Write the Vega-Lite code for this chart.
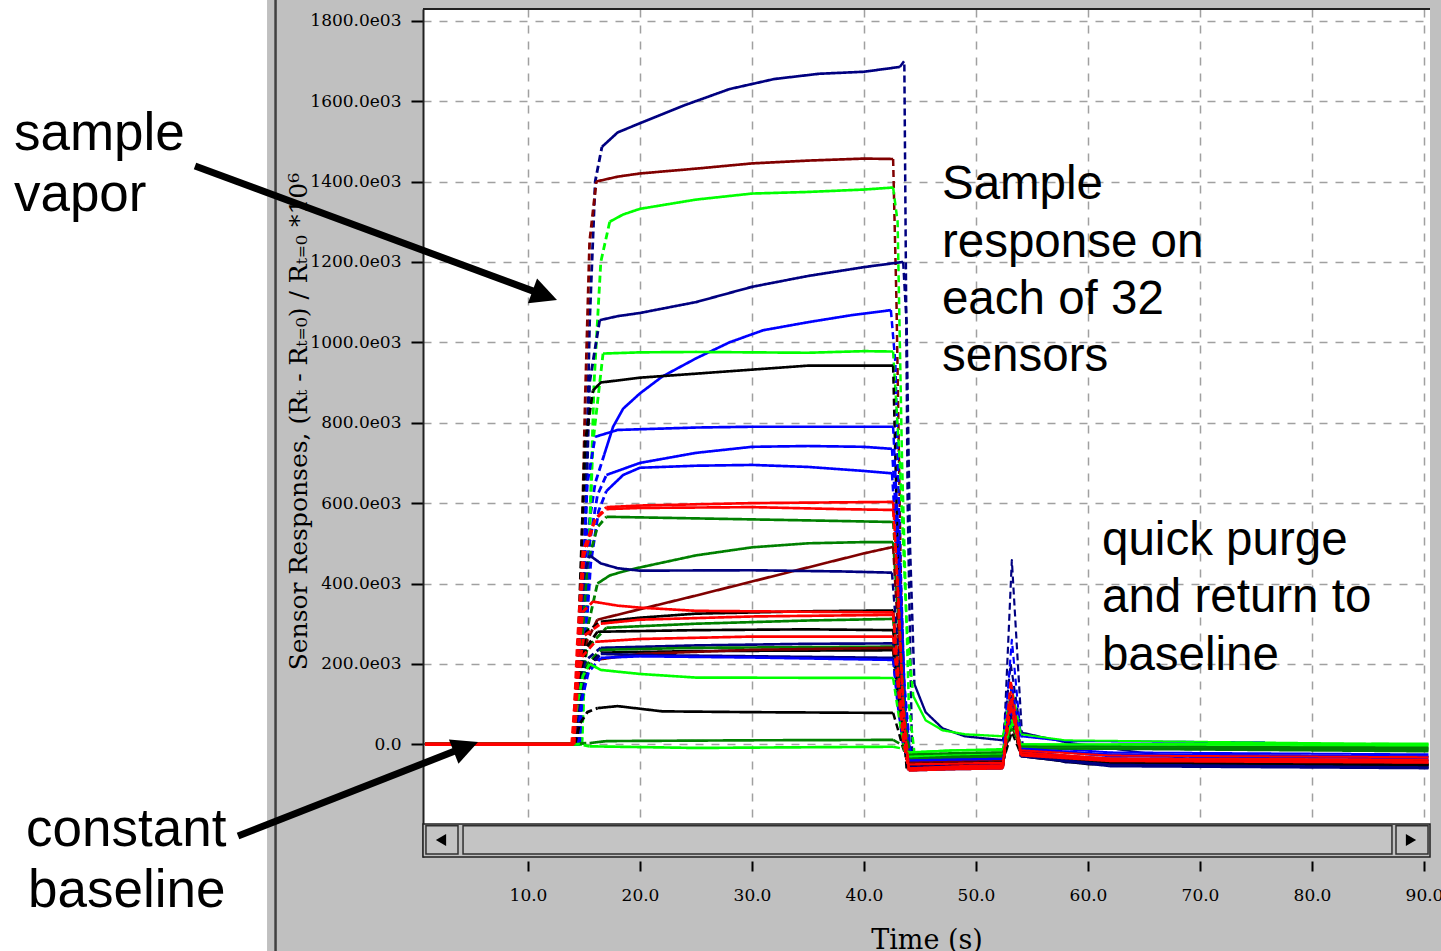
{
"$schema": "https://vega.github.io/schema/vega-lite/v6.json",
"width": 1007, "height": 848,
"autosize": {"type": "none"},
"padding": {"left": 423, "top": 9, "right": 11, "bottom": 94},
"background": "#c0c0c0",
"view": {"fill": "white", "stroke": null},
"encoding": {
 "x": {"field": "t", "type": "quantitative", "scale": {"domain": [0.625, 90.536], "nice": false, "zero": false},
  "axis": {"title": "Time (s)", "values": [10,20,30,40,50,60,70,80,90], "format": ".1f", "grid": true, "gridColor": "#a0a0a0", "gridDash": [8,8], "gridWidth": 1.5, "domain": false, "offset": 4, "tickSize": 10, "tickColor": "#000", "tickWidth": 2, "labelFont": "DejaVu Serif", "labelFontSize": 17, "labelColor": "#000", "labelPadding": 16, "labelFlush": false, "labelBound": false, "labelOverlap": false, "titleFont": "DejaVu Serif", "titleFontSize": 27, "titleFontWeight": "normal", "titleColor": "#000", "titlePadding": 24}},
 "y": {"field": "v", "type": "quantitative", "scale": {"domain": [-280.3, 1829.1], "nice": false, "zero": false},
  "axis": {"title": "Sensor Responses, (Rₜ - Rₜ₌₀) / Rₜ₌₀ *10⁶", "values": [0,200,400,600,800,1000,1200,1400,1600,1800], "labelExpr": "datum.value == 0 ? '0.0' : format(datum.value, '.1f') + 'e03'", "grid": true, "gridColor": "#a0a0a0", "gridDash": [8,8], "gridWidth": 1.5, "domain": true, "domainColor": "#202020", "domainWidth": 2, "tickSize": 12, "tickColor": "#000", "tickWidth": 2, "labelFont": "DejaVu Serif", "labelFontSize": 17, "labelColor": "#000", "labelPadding": 10, "labelOverlap": false, "titleFont": "DejaVu Serif", "titleFontSize": 25, "titleFontWeight": "normal", "titleColor": "#000", "titleX": -125, "titleY": 412, "titleAngle": 270, "titleBaseline": "middle", "titleAlign": "center"}}
},
"layer": [
 {"data": {"values": [{"t": -40, "t2": -13.3, "v": 1900, "v2": -600}]}, "mark": {"type": "rect", "fill": "white"}, "encoding": {"x2": {"field": "t2"}, "y2": {"field": "v2"}}},
 {"data": {"values": [{"t": -12.54, "v": 1900, "v2": -600}]}, "mark": {"type": "rule", "color": "#404040", "strokeWidth": 2.5}, "encoding": {"y2": {"field": "v2"}}},
 {"data": {"values": [{"t": 0.625, "t2": 90.536, "v": 1829.1}]}, "mark": {"type": "rule", "color": "#202020", "strokeWidth": 2}, "encoding": {"x2": {"field": "t2"}}},
 {"data": {"values": [
{"s":1,"k":"b","t":0.8,"v":0},{"s":1,"k":"b","t":14.6,"v":0},
{"s":1,"k":"r","t":14.6,"v":0},{"s":1,"k":"r","t":15.0,"v":400},{"s":1,"k":"r","t":15.5,"v":1050},{"s":1,"k":"r","t":16.0,"v":1400},{"s":1,"k":"r","t":16.6,"v":1486},
{"s":1,"k":"p","t":16.6,"v":1486},{"s":1,"k":"p","t":18,"v":1522},{"s":1,"k":"p","t":20,"v":1545},{"s":1,"k":"p","t":24,"v":1590},{"s":1,"k":"p","t":28,"v":1630},{"s":1,"k":"p","t":32,"v":1655},{"s":1,"k":"p","t":36,"v":1668},{"s":1,"k":"p","t":40,"v":1673},{"s":1,"k":"p","t":43.2,"v":1685},
{"s":1,"k":"f","t":43.2,"v":1685},{"s":1,"k":"f","t":43.6,"v":1700},{"s":1,"k":"f","t":43.9,"v":600},{"s":1,"k":"f","t":44.3,"v":-40},
{"s":1,"k":"d","t":44.3,"v":-40},{"s":1,"k":"d","t":47,"v":-45},{"s":1,"k":"d","t":52.4,"v":-48},
{"s":1,"k":"k","t":52.4,"v":-48},{"s":1,"k":"k","t":53.2,"v":458},{"s":1,"k":"k","t":54.2,"v":-20},
{"s":1,"k":"t","t":54.2,"v":-20},{"s":1,"k":"t","t":58,"v":-45},{"s":1,"k":"t","t":90.4,"v":-55},

{"s":2,"k":"b","t":0.8,"v":0},{"s":2,"k":"b","t":14.3,"v":0},
{"s":2,"k":"r","t":14.3,"v":0},{"s":2,"k":"r","t":14.6,"v":250},{"s":2,"k":"r","t":15.1,"v":850},{"s":2,"k":"r","t":15.5,"v":1250},{"s":2,"k":"r","t":16.1,"v":1400},
{"s":2,"k":"p","t":16.1,"v":1400},{"s":2,"k":"p","t":18,"v":1412},{"s":2,"k":"p","t":20,"v":1420},{"s":2,"k":"p","t":25,"v":1432},{"s":2,"k":"p","t":30,"v":1445},{"s":2,"k":"p","t":35,"v":1452},{"s":2,"k":"p","t":40,"v":1457},{"s":2,"k":"p","t":42.6,"v":1456},
{"s":2,"k":"f","t":42.6,"v":1456},{"s":2,"k":"f","t":42.9,"v":1100},{"s":2,"k":"f","t":43.3,"v":400},{"s":2,"k":"f","t":43.8,"v":-50},
{"s":2,"k":"d","t":43.8,"v":-50},{"s":2,"k":"d","t":47,"v":-35},{"s":2,"k":"d","t":52.4,"v":-30},
{"s":2,"k":"k","t":52.4,"v":-30},{"s":2,"k":"k","t":53.1,"v":120},{"s":2,"k":"k","t":54,"v":-10},
{"s":2,"k":"t","t":54,"v":-10},{"s":2,"k":"t","t":60,"v":-25},{"s":2,"k":"t","t":90.4,"v":-30},

{"s":3,"k":"b","t":0.8,"v":0},{"s":3,"k":"b","t":14.8,"v":0},
{"s":3,"k":"r","t":14.8,"v":0},{"s":3,"k":"r","t":15.3,"v":350},{"s":3,"k":"r","t":15.9,"v":900},{"s":3,"k":"r","t":16.5,"v":1200},{"s":3,"k":"r","t":17.3,"v":1300},
{"s":3,"k":"p","t":17.3,"v":1300},{"s":3,"k":"p","t":18.5,"v":1318},{"s":3,"k":"p","t":20,"v":1332},{"s":3,"k":"p","t":25,"v":1355},{"s":3,"k":"p","t":30,"v":1370},{"s":3,"k":"p","t":35,"v":1374},{"s":3,"k":"p","t":40,"v":1380},{"s":3,"k":"p","t":42.6,"v":1385},
{"s":3,"k":"f","t":42.6,"v":1385},{"s":3,"k":"f","t":43.0,"v":1300},{"s":3,"k":"f","t":43.4,"v":700},{"s":3,"k":"f","t":44.0,"v":100},{"s":3,"k":"f","t":44.5,"v":-20},
{"s":3,"k":"d","t":44.5,"v":-20},{"s":3,"k":"d","t":48,"v":-15},{"s":3,"k":"d","t":52.4,"v":-15},
{"s":3,"k":"k","t":52.4,"v":-15},{"s":3,"k":"k","t":53.1,"v":90},{"s":3,"k":"k","t":54,"v":0},
{"s":3,"k":"t","t":54,"v":0},{"s":3,"k":"t","t":90.4,"v":-2},

{"s":4,"k":"b","t":0.8,"v":0},{"s":4,"k":"b","t":14.6,"v":0},
{"s":4,"k":"r","t":14.6,"v":0},{"s":4,"k":"r","t":15.0,"v":400},{"s":4,"k":"r","t":15.5,"v":900},{"s":4,"k":"r","t":16.4,"v":1055},
{"s":4,"k":"p","t":16.4,"v":1055},{"s":4,"k":"p","t":18,"v":1065},{"s":4,"k":"p","t":20,"v":1073},{"s":4,"k":"p","t":25,"v":1100},{"s":4,"k":"p","t":30,"v":1138},{"s":4,"k":"p","t":35,"v":1165},{"s":4,"k":"p","t":40,"v":1187},{"s":4,"k":"p","t":43.5,"v":1200},
{"s":4,"k":"f","t":43.5,"v":1200},{"s":4,"k":"f","t":43.8,"v":1050},{"s":4,"k":"f","t":44.1,"v":500},{"s":4,"k":"f","t":44.5,"v":150},
{"s":4,"k":"d","t":44.5,"v":150},{"s":4,"k":"d","t":45.5,"v":80},{"s":4,"k":"d","t":47,"v":40},{"s":4,"k":"d","t":49,"v":20},{"s":4,"k":"d","t":52.4,"v":10},
{"s":4,"k":"k","t":52.4,"v":10},{"s":4,"k":"k","t":53.1,"v":200},{"s":4,"k":"k","t":54,"v":30},
{"s":4,"k":"t","t":54,"v":30},{"s":4,"k":"t","t":58,"v":5},{"s":4,"k":"t","t":70,"v":-40},{"s":4,"k":"t","t":90.4,"v":-50},

{"s":5,"k":"b","t":0.8,"v":0},{"s":5,"k":"b","t":14.4,"v":0},
{"s":5,"k":"r","t":14.4,"v":0},{"s":5,"k":"r","t":14.8,"v":250},{"s":5,"k":"r","t":15.3,"v":520},{"s":5,"k":"r","t":16.0,"v":650},{"s":5,"k":"r","t":16.8,"v":720},
{"s":5,"k":"p","t":16.8,"v":720},{"s":5,"k":"p","t":17.6,"v":790},{"s":5,"k":"p","t":18.5,"v":835},{"s":5,"k":"p","t":20,"v":873},{"s":5,"k":"p","t":22,"v":915},{"s":5,"k":"p","t":25,"v":960},{"s":5,"k":"p","t":28,"v":1000},{"s":5,"k":"p","t":31,"v":1030},{"s":5,"k":"p","t":35,"v":1050},{"s":5,"k":"p","t":39,"v":1068},{"s":5,"k":"p","t":42.4,"v":1080},
{"s":5,"k":"f","t":42.4,"v":1080},{"s":5,"k":"f","t":42.8,"v":950},{"s":5,"k":"f","t":43.2,"v":500},{"s":5,"k":"f","t":43.7,"v":50},{"s":5,"k":"f","t":44.2,"v":-40},
{"s":5,"k":"d","t":44.2,"v":-40},{"s":5,"k":"d","t":48,"v":-30},{"s":5,"k":"d","t":52.4,"v":-25},
{"s":5,"k":"k","t":52.4,"v":-25},{"s":5,"k":"k","t":53.2,"v":260},{"s":5,"k":"k","t":54,"v":20},
{"s":5,"k":"t","t":54,"v":20},{"s":5,"k":"t","t":58,"v":8},{"s":5,"k":"t","t":75.8,"v":5},

{"s":6,"k":"b","t":0.8,"v":0},{"s":6,"k":"b","t":14.8,"v":0},
{"s":6,"k":"r","t":14.8,"v":0},{"s":6,"k":"r","t":15.2,"v":300},{"s":6,"k":"r","t":15.8,"v":750},{"s":6,"k":"r","t":16.7,"v":972},
{"s":6,"k":"p","t":16.7,"v":972},{"s":6,"k":"p","t":20,"v":975},{"s":6,"k":"p","t":25,"v":976},{"s":6,"k":"p","t":30,"v":975},{"s":6,"k":"p","t":35,"v":974},{"s":6,"k":"p","t":40,"v":978},{"s":6,"k":"p","t":42.6,"v":977},
{"s":6,"k":"f","t":42.6,"v":977},{"s":6,"k":"f","t":43.2,"v":700},{"s":6,"k":"f","t":43.8,"v":300},{"s":6,"k":"f","t":44.4,"v":120},
{"s":6,"k":"d","t":44.4,"v":120},{"s":6,"k":"d","t":45.5,"v":60},{"s":6,"k":"d","t":47,"v":35},{"s":6,"k":"d","t":49,"v":25},{"s":6,"k":"d","t":52.4,"v":20},
{"s":6,"k":"k","t":52.4,"v":20},{"s":6,"k":"k","t":53.2,"v":140},{"s":6,"k":"k","t":54,"v":25},
{"s":6,"k":"t","t":54,"v":25},{"s":6,"k":"t","t":58,"v":10},{"s":6,"k":"t","t":90.4,"v":0},

{"s":7,"k":"b","t":0.8,"v":0},{"s":7,"k":"b","t":14.2,"v":0},
{"s":7,"k":"r","t":14.2,"v":0},{"s":7,"k":"r","t":14.6,"v":350},{"s":7,"k":"r","t":15.1,"v":750},{"s":7,"k":"r","t":15.8,"v":880},
{"s":7,"k":"p","t":15.8,"v":880},{"s":7,"k":"p","t":16.5,"v":900},{"s":7,"k":"p","t":20,"v":912},{"s":7,"k":"p","t":25,"v":922},{"s":7,"k":"p","t":30,"v":932},{"s":7,"k":"p","t":35,"v":942},{"s":7,"k":"p","t":42.6,"v":942},
{"s":7,"k":"f","t":42.6,"v":942},{"s":7,"k":"f","t":42.9,"v":600},{"s":7,"k":"f","t":43.3,"v":150},{"s":7,"k":"f","t":43.8,"v":-60},
{"s":7,"k":"d","t":43.8,"v":-60},{"s":7,"k":"d","t":47,"v":-55},{"s":7,"k":"d","t":52.4,"v":-55},
{"s":7,"k":"k","t":52.4,"v":-55},{"s":7,"k":"k","t":53.2,"v":80},{"s":7,"k":"k","t":54,"v":-30},
{"s":7,"k":"t","t":54,"v":-30},{"s":7,"k":"t","t":60,"v":-50},{"s":7,"k":"t","t":90.4,"v":-58},

{"s":8,"k":"b","t":0.8,"v":0},{"s":8,"k":"b","t":14.3,"v":0},
{"s":8,"k":"r","t":14.3,"v":0},{"s":8,"k":"r","t":14.7,"v":300},{"s":8,"k":"r","t":15.3,"v":650},{"s":8,"k":"r","t":16.0,"v":765},
{"s":8,"k":"p","t":16.0,"v":765},{"s":8,"k":"p","t":18,"v":782},{"s":8,"k":"p","t":25,"v":788},{"s":8,"k":"p","t":30,"v":790},{"s":8,"k":"p","t":42.6,"v":790},
{"s":8,"k":"f","t":42.6,"v":790},{"s":8,"k":"f","t":43.1,"v":500},{"s":8,"k":"f","t":43.6,"v":150},{"s":8,"k":"f","t":44.1,"v":-50},
{"s":8,"k":"d","t":44.1,"v":-50},{"s":8,"k":"d","t":48,"v":-48},{"s":8,"k":"d","t":52.4,"v":-45},
{"s":8,"k":"k","t":52.4,"v":-45},{"s":8,"k":"k","t":53.2,"v":100},{"s":8,"k":"k","t":54,"v":-15},
{"s":8,"k":"t","t":54,"v":-15},{"s":8,"k":"t","t":60,"v":-35},{"s":8,"k":"t","t":90.4,"v":-40},

{"s":9,"k":"b","t":0.8,"v":0},{"s":9,"k":"b","t":14.5,"v":0},
{"s":9,"k":"r","t":14.5,"v":0},{"s":9,"k":"r","t":14.9,"v":250},{"s":9,"k":"r","t":15.5,"v":500},{"s":9,"k":"r","t":16.2,"v":620},{"s":9,"k":"r","t":17,"v":670},
{"s":9,"k":"p","t":17,"v":670},{"s":9,"k":"p","t":20,"v":700},{"s":9,"k":"p","t":25,"v":725},{"s":9,"k":"p","t":30,"v":740},{"s":9,"k":"p","t":35,"v":742},{"s":9,"k":"p","t":40,"v":740},{"s":9,"k":"p","t":42.5,"v":735},
{"s":9,"k":"f","t":42.5,"v":735},{"s":9,"k":"f","t":43.0,"v":500},{"s":9,"k":"f","t":43.6,"v":150},{"s":9,"k":"f","t":44.2,"v":-40},
{"s":9,"k":"d","t":44.2,"v":-40},{"s":9,"k":"d","t":48,"v":-35},{"s":9,"k":"d","t":52.4,"v":-32},
{"s":9,"k":"k","t":52.4,"v":-32},{"s":9,"k":"k","t":53.2,"v":150},{"s":9,"k":"k","t":54,"v":-5},
{"s":9,"k":"t","t":54,"v":-5},{"s":9,"k":"t","t":62,"v":-20},{"s":9,"k":"t","t":90.4,"v":-25},

{"s":10,"k":"b","t":0.8,"v":0},{"s":10,"k":"b","t":14.6,"v":0},
{"s":10,"k":"r","t":14.6,"v":0},{"s":10,"k":"r","t":15.0,"v":200},{"s":10,"k":"r","t":15.6,"v":450},{"s":10,"k":"r","t":16.3,"v":580},{"s":10,"k":"r","t":17,"v":630},
{"s":10,"k":"p","t":17,"v":630},{"s":10,"k":"p","t":18.5,"v":670},{"s":10,"k":"p","t":20,"v":688},{"s":10,"k":"p","t":25,"v":693},{"s":10,"k":"p","t":30,"v":695},{"s":10,"k":"p","t":35,"v":690},{"s":10,"k":"p","t":40,"v":680},{"s":10,"k":"p","t":42.5,"v":674},
{"s":10,"k":"f","t":42.5,"v":674},{"s":10,"k":"f","t":43.0,"v":450},{"s":10,"k":"f","t":43.6,"v":120},{"s":10,"k":"f","t":44.2,"v":-45},
{"s":10,"k":"d","t":44.2,"v":-45},{"s":10,"k":"d","t":48,"v":-40},{"s":10,"k":"d","t":52.4,"v":-38},
{"s":10,"k":"k","t":52.4,"v":-38},{"s":10,"k":"k","t":53.2,"v":110},{"s":10,"k":"k","t":54,"v":-10},
{"s":10,"k":"t","t":54,"v":-10},{"s":10,"k":"t","t":62,"v":-30},{"s":10,"k":"t","t":90.4,"v":-35},

{"s":13,"k":"b","t":0.8,"v":0},{"s":13,"k":"b","t":14.3,"v":0},
{"s":13,"k":"r","t":14.3,"v":0},{"s":13,"k":"r","t":14.7,"v":200},{"s":13,"k":"r","t":15.3,"v":450},{"s":13,"k":"r","t":16.2,"v":540},{"s":13,"k":"r","t":17,"v":566},
{"s":13,"k":"p","t":17,"v":566},{"s":13,"k":"p","t":25,"v":562},{"s":13,"k":"p","t":35,"v":557},{"s":13,"k":"p","t":42.6,"v":553},
{"s":13,"k":"f","t":42.6,"v":553},{"s":13,"k":"f","t":43.1,"v":350},{"s":13,"k":"f","t":43.6,"v":80},{"s":13,"k":"f","t":44.1,"v":-30},
{"s":13,"k":"d","t":44.1,"v":-30},{"s":13,"k":"d","t":48,"v":-28},{"s":13,"k":"d","t":52.4,"v":-25},
{"s":13,"k":"k","t":52.4,"v":-25},{"s":13,"k":"k","t":53.2,"v":90},{"s":13,"k":"k","t":54,"v":-5},
{"s":13,"k":"t","t":54,"v":-5},{"s":13,"k":"t","t":90.4,"v":-10},

{"s":14,"k":"b","t":0.8,"v":0},{"s":14,"k":"b","t":14.4,"v":0},
{"s":14,"k":"r","t":14.4,"v":0},{"s":14,"k":"r","t":14.8,"v":150},{"s":14,"k":"r","t":15.4,"v":300},{"s":14,"k":"r","t":16.2,"v":400},
{"s":14,"k":"p","t":16.2,"v":400},{"s":14,"k":"p","t":17.3,"v":420},{"s":14,"k":"p","t":18.5,"v":430},{"s":14,"k":"p","t":20,"v":440},{"s":14,"k":"p","t":25,"v":470},{"s":14,"k":"p","t":30,"v":490},{"s":14,"k":"p","t":35,"v":500},{"s":14,"k":"p","t":40,"v":503},{"s":14,"k":"p","t":42.6,"v":503},
{"s":14,"k":"f","t":42.6,"v":503},{"s":14,"k":"f","t":43.1,"v":300},{"s":14,"k":"f","t":43.6,"v":60},{"s":14,"k":"f","t":44.1,"v":-35},
{"s":14,"k":"d","t":44.1,"v":-35},{"s":14,"k":"d","t":48,"v":-30},{"s":14,"k":"d","t":52.4,"v":-30},
{"s":14,"k":"k","t":52.4,"v":-30},{"s":14,"k":"k","t":53.2,"v":70},{"s":14,"k":"k","t":54,"v":-10},
{"s":14,"k":"t","t":54,"v":-10},{"s":14,"k":"t","t":90.4,"v":-15},

{"s":15,"k":"b","t":0.8,"v":0},{"s":15,"k":"b","t":14.2,"v":0},
{"s":15,"k":"r","t":14.2,"v":0},{"s":15,"k":"r","t":14.6,"v":150},{"s":15,"k":"r","t":15.3,"v":260},{"s":15,"k":"r","t":16.2,"v":310},
{"s":15,"k":"p","t":16.2,"v":310},{"s":15,"k":"p","t":20,"v":336},{"s":15,"k":"p","t":25,"v":370},{"s":15,"k":"p","t":30,"v":405},{"s":15,"k":"p","t":35,"v":440},{"s":15,"k":"p","t":40,"v":475},{"s":15,"k":"p","t":42.6,"v":491},
{"s":15,"k":"f","t":42.6,"v":491},{"s":15,"k":"f","t":43.0,"v":300},{"s":15,"k":"f","t":43.5,"v":60},{"s":15,"k":"f","t":44.0,"v":-55},
{"s":15,"k":"d","t":44.0,"v":-55},{"s":15,"k":"d","t":48,"v":-50},{"s":15,"k":"d","t":52.4,"v":-50},
{"s":15,"k":"k","t":52.4,"v":-50},{"s":15,"k":"k","t":53.2,"v":60},{"s":15,"k":"k","t":54,"v":-25},
{"s":15,"k":"t","t":54,"v":-25},{"s":15,"k":"t","t":62,"v":-45},{"s":15,"k":"t","t":90.4,"v":-50},

{"s":16,"k":"b","t":0.8,"v":0},{"s":16,"k":"b","t":14.1,"v":0},
{"s":16,"k":"r","t":14.1,"v":0},{"s":16,"k":"r","t":14.5,"v":250},{"s":16,"k":"r","t":15.0,"v":420},{"s":16,"k":"r","t":15.5,"v":470},
{"s":16,"k":"p","t":15.5,"v":470},{"s":16,"k":"p","t":16.5,"v":450},{"s":16,"k":"p","t":18,"v":438},{"s":16,"k":"p","t":20,"v":432},{"s":16,"k":"p","t":30,"v":433},{"s":16,"k":"p","t":38,"v":430},{"s":16,"k":"p","t":42.5,"v":427},
{"s":16,"k":"f","t":42.5,"v":427},{"s":16,"k":"f","t":43.0,"v":250},{"s":16,"k":"f","t":43.5,"v":40},{"s":16,"k":"f","t":44.0,"v":-65},
{"s":16,"k":"d","t":44.0,"v":-65},{"s":16,"k":"d","t":48,"v":-62},{"s":16,"k":"d","t":52.4,"v":-60},
{"s":16,"k":"k","t":52.4,"v":-60},{"s":16,"k":"k","t":53.2,"v":120},{"s":16,"k":"k","t":54,"v":-30},
{"s":16,"k":"t","t":54,"v":-30},{"s":16,"k":"t","t":62,"v":-55},{"s":16,"k":"t","t":90.4,"v":-60},

{"s":18,"k":"b","t":0.8,"v":0},{"s":18,"k":"b","t":14.2,"v":0},
{"s":18,"k":"r","t":14.2,"v":0},{"s":18,"k":"r","t":14.6,"v":180},{"s":18,"k":"r","t":15.2,"v":280},{"s":18,"k":"r","t":16.5,"v":305},
{"s":18,"k":"p","t":16.5,"v":305},{"s":18,"k":"p","t":20,"v":315},{"s":18,"k":"p","t":25,"v":325},{"s":18,"k":"p","t":35,"v":331},{"s":18,"k":"p","t":42.6,"v":333},
{"s":18,"k":"f","t":42.6,"v":333},{"s":18,"k":"f","t":43.0,"v":200},{"s":18,"k":"f","t":43.5,"v":20},{"s":18,"k":"f","t":44.0,"v":-45},
{"s":18,"k":"d","t":44.0,"v":-45},{"s":18,"k":"d","t":48,"v":-42},{"s":18,"k":"d","t":52.4,"v":-40},
{"s":18,"k":"k","t":52.4,"v":-40},{"s":18,"k":"k","t":53.2,"v":90},{"s":18,"k":"k","t":54,"v":-20},
{"s":18,"k":"t","t":54,"v":-20},{"s":18,"k":"t","t":62,"v":-40},{"s":18,"k":"t","t":90.4,"v":-48},

{"s":20,"k":"b","t":0.8,"v":0},{"s":20,"k":"b","t":14.3,"v":0},
{"s":20,"k":"r","t":14.3,"v":0},{"s":20,"k":"r","t":14.7,"v":150},{"s":20,"k":"r","t":15.3,"v":240},{"s":20,"k":"r","t":17,"v":290},
{"s":20,"k":"p","t":17,"v":290},{"s":20,"k":"p","t":25,"v":300},{"s":20,"k":"p","t":35,"v":308},{"s":20,"k":"p","t":42.6,"v":312},
{"s":20,"k":"f","t":42.6,"v":312},{"s":20,"k":"f","t":43.0,"v":180},{"s":20,"k":"f","t":43.5,"v":20},{"s":20,"k":"f","t":44.0,"v":-40},
{"s":20,"k":"d","t":44.0,"v":-40},{"s":20,"k":"d","t":48,"v":-38},{"s":20,"k":"d","t":52.4,"v":-36},
{"s":20,"k":"k","t":52.4,"v":-36},{"s":20,"k":"k","t":53.2,"v":70},{"s":20,"k":"k","t":54,"v":-10},
{"s":20,"k":"t","t":54,"v":-10},{"s":20,"k":"t","t":90.4,"v":-18},

{"s":21,"k":"b","t":0.8,"v":0},{"s":21,"k":"b","t":14.2,"v":0},
{"s":21,"k":"r","t":14.2,"v":0},{"s":21,"k":"r","t":14.6,"v":150},{"s":21,"k":"r","t":15.2,"v":240},{"s":21,"k":"r","t":16.2,"v":280},
{"s":21,"k":"p","t":16.2,"v":280},{"s":21,"k":"p","t":25,"v":284},{"s":21,"k":"p","t":35,"v":286},{"s":21,"k":"p","t":42.6,"v":284},
{"s":21,"k":"f","t":42.6,"v":284},{"s":21,"k":"f","t":43.0,"v":160},{"s":21,"k":"f","t":43.5,"v":10},{"s":21,"k":"f","t":44.0,"v":-55},
{"s":21,"k":"d","t":44.0,"v":-55},{"s":21,"k":"d","t":48,"v":-52},{"s":21,"k":"d","t":52.4,"v":-50},
{"s":21,"k":"k","t":52.4,"v":-50},{"s":21,"k":"k","t":53.2,"v":60},{"s":21,"k":"k","t":54,"v":-25},
{"s":21,"k":"t","t":54,"v":-25},{"s":21,"k":"t","t":62,"v":-48},{"s":21,"k":"t","t":90.4,"v":-52},

{"s":23,"k":"b","t":0.8,"v":0},{"s":23,"k":"b","t":14.2,"v":0},
{"s":23,"k":"r","t":14.2,"v":0},{"s":23,"k":"r","t":14.6,"v":140},{"s":23,"k":"r","t":15.2,"v":210},{"s":23,"k":"r","t":16.5,"v":240},
{"s":23,"k":"p","t":16.5,"v":240},{"s":23,"k":"p","t":25,"v":246},{"s":23,"k":"p","t":35,"v":250},{"s":23,"k":"p","t":42.6,"v":251},
{"s":23,"k":"f","t":42.6,"v":251},{"s":23,"k":"f","t":43.0,"v":140},{"s":23,"k":"f","t":43.5,"v":10},{"s":23,"k":"f","t":44.0,"v":-60},
{"s":23,"k":"d","t":44.0,"v":-60},{"s":23,"k":"d","t":48,"v":-58},{"s":23,"k":"d","t":52.4,"v":-56},
{"s":23,"k":"k","t":52.4,"v":-56},{"s":23,"k":"k","t":53.2,"v":80},{"s":23,"k":"k","t":54,"v":-30},
{"s":23,"k":"t","t":54,"v":-30},{"s":23,"k":"t","t":62,"v":-50},{"s":23,"k":"t","t":90.4,"v":-56},

{"s":24,"k":"b","t":0.8,"v":0},{"s":24,"k":"b","t":14.3,"v":0},
{"s":24,"k":"r","t":14.3,"v":0},{"s":24,"k":"r","t":14.7,"v":130},{"s":24,"k":"r","t":15.3,"v":200},{"s":24,"k":"r","t":16.5,"v":235},
{"s":24,"k":"p","t":16.5,"v":235},{"s":24,"k":"p","t":25,"v":240},{"s":24,"k":"p","t":42.6,"v":243},
{"s":24,"k":"f","t":42.6,"v":243},{"s":24,"k":"f","t":43.0,"v":130},{"s":24,"k":"f","t":43.5,"v":10},{"s":24,"k":"f","t":44.0,"v":-35},
{"s":24,"k":"d","t":44.0,"v":-35},{"s":24,"k":"d","t":48,"v":-33},{"s":24,"k":"d","t":52.4,"v":-30},
{"s":24,"k":"k","t":52.4,"v":-30},{"s":24,"k":"k","t":53.2,"v":60},{"s":24,"k":"k","t":54,"v":-8},
{"s":24,"k":"t","t":54,"v":-8},{"s":24,"k":"t","t":90.4,"v":-12},

{"s":25,"k":"b","t":0.8,"v":0},{"s":25,"k":"b","t":14.2,"v":0},
{"s":25,"k":"r","t":14.2,"v":0},{"s":25,"k":"r","t":14.6,"v":130},{"s":25,"k":"r","t":15.2,"v":190},{"s":25,"k":"r","t":16.5,"v":228},
{"s":25,"k":"p","t":16.5,"v":228},{"s":25,"k":"p","t":25,"v":232},{"s":25,"k":"p","t":42.6,"v":234},
{"s":25,"k":"f","t":42.6,"v":234},{"s":25,"k":"f","t":43.0,"v":120},{"s":25,"k":"f","t":43.5,"v":0},{"s":25,"k":"f","t":44.0,"v":-50},
{"s":25,"k":"d","t":44.0,"v":-50},{"s":25,"k":"d","t":48,"v":-48},{"s":25,"k":"d","t":52.4,"v":-46},
{"s":25,"k":"k","t":52.4,"v":-46},{"s":25,"k":"k","t":53.2,"v":50},{"s":25,"k":"k","t":54,"v":-20},
{"s":25,"k":"t","t":54,"v":-20},{"s":25,"k":"t","t":62,"v":-44},{"s":25,"k":"t","t":90.4,"v":-50},

{"s":26,"k":"b","t":0.8,"v":0},{"s":26,"k":"b","t":14.2,"v":0},
{"s":26,"k":"r","t":14.2,"v":0},{"s":26,"k":"r","t":14.6,"v":120},{"s":26,"k":"r","t":15.2,"v":180},{"s":26,"k":"r","t":16,"v":210},
{"s":26,"k":"p","t":16,"v":210},{"s":26,"k":"p","t":20,"v":225},{"s":26,"k":"p","t":30,"v":235},{"s":26,"k":"p","t":42.6,"v":240},
{"s":26,"k":"f","t":42.6,"v":240},{"s":26,"k":"f","t":43.0,"v":130},{"s":26,"k":"f","t":43.5,"v":10},{"s":26,"k":"f","t":44.0,"v":-45},
{"s":26,"k":"d","t":44.0,"v":-45},{"s":26,"k":"d","t":48,"v":-42},{"s":26,"k":"d","t":52.4,"v":-40},
{"s":26,"k":"k","t":52.4,"v":-40},{"s":26,"k":"k","t":53.2,"v":50},{"s":26,"k":"k","t":54,"v":-20},
{"s":26,"k":"t","t":54,"v":-20},{"s":26,"k":"t","t":62,"v":-36},{"s":26,"k":"t","t":90.4,"v":-40},

{"s":27,"k":"b","t":0.8,"v":0},{"s":27,"k":"b","t":14.3,"v":0},
{"s":27,"k":"r","t":14.3,"v":0},{"s":27,"k":"r","t":14.7,"v":120},{"s":27,"k":"r","t":15.3,"v":190},{"s":27,"k":"r","t":16.5,"v":225},
{"s":27,"k":"p","t":16.5,"v":225},{"s":27,"k":"p","t":20,"v":222},{"s":27,"k":"p","t":30,"v":219},{"s":27,"k":"p","t":42.6,"v":215},
{"s":27,"k":"f","t":42.6,"v":215},{"s":27,"k":"f","t":43.0,"v":110},{"s":27,"k":"f","t":43.5,"v":0},{"s":27,"k":"f","t":44.0,"v":-55},
{"s":27,"k":"d","t":44.0,"v":-55},{"s":27,"k":"d","t":48,"v":-53},{"s":27,"k":"d","t":52.4,"v":-50},
{"s":27,"k":"k","t":52.4,"v":-50},{"s":27,"k":"k","t":53.2,"v":70},{"s":27,"k":"k","t":54,"v":-28},
{"s":27,"k":"t","t":54,"v":-28},{"s":27,"k":"t","t":62,"v":-50},{"s":27,"k":"t","t":90.4,"v":-58},

{"s":28,"k":"b","t":0.8,"v":0},{"s":28,"k":"b","t":14.4,"v":0},
{"s":28,"k":"r","t":14.4,"v":0},{"s":28,"k":"r","t":14.8,"v":110},{"s":28,"k":"r","t":15.4,"v":180},{"s":28,"k":"r","t":16.5,"v":215},
{"s":28,"k":"p","t":16.5,"v":215},{"s":28,"k":"p","t":20,"v":219},{"s":28,"k":"p","t":30,"v":216},{"s":28,"k":"p","t":42.6,"v":210},
{"s":28,"k":"f","t":42.6,"v":210},{"s":28,"k":"f","t":43.0,"v":100},{"s":28,"k":"f","t":43.5,"v":0},{"s":28,"k":"f","t":44.0,"v":-40},
{"s":28,"k":"d","t":44.0,"v":-40},{"s":28,"k":"d","t":48,"v":-38},{"s":28,"k":"d","t":52.4,"v":-36},
{"s":28,"k":"k","t":52.4,"v":-36},{"s":28,"k":"k","t":53.2,"v":90},{"s":28,"k":"k","t":54,"v":-10},
{"s":28,"k":"t","t":54,"v":-10},{"s":28,"k":"t","t":62,"v":-25},{"s":28,"k":"t","t":90.4,"v":-30},

{"s":29,"k":"b","t":0.8,"v":0},{"s":29,"k":"b","t":14.0,"v":0},
{"s":29,"k":"r","t":14.0,"v":0},{"s":29,"k":"r","t":14.4,"v":100},{"s":29,"k":"r","t":14.9,"v":170},{"s":29,"k":"r","t":15.5,"v":200},
{"s":29,"k":"p","t":15.5,"v":200},{"s":29,"k":"p","t":16.5,"v":185},{"s":29,"k":"p","t":20,"v":175},{"s":29,"k":"p","t":25,"v":166},{"s":29,"k":"p","t":42.6,"v":165},
{"s":29,"k":"f","t":42.6,"v":165},{"s":29,"k":"f","t":43.0,"v":90},{"s":29,"k":"f","t":43.5,"v":0},{"s":29,"k":"f","t":44.0,"v":-30},
{"s":29,"k":"d","t":44.0,"v":-30},{"s":29,"k":"d","t":48,"v":-25},{"s":29,"k":"d","t":52.4,"v":-22},
{"s":29,"k":"k","t":52.4,"v":-22},{"s":29,"k":"k","t":53.2,"v":60},{"s":29,"k":"k","t":54,"v":-5},
{"s":29,"k":"t","t":54,"v":-5},{"s":29,"k":"t","t":90.4,"v":-5},

{"s":30,"k":"b","t":0.8,"v":0},{"s":30,"k":"b","t":14.2,"v":0},
{"s":30,"k":"r","t":14.2,"v":0},{"s":30,"k":"r","t":14.6,"v":50},{"s":30,"k":"r","t":15.3,"v":80},{"s":30,"k":"r","t":16.2,"v":90},
{"s":30,"k":"p","t":16.2,"v":90},{"s":30,"k":"p","t":18,"v":95},{"s":30,"k":"p","t":22,"v":82},{"s":30,"k":"p","t":30,"v":80},{"s":30,"k":"p","t":42.6,"v":78},
{"s":30,"k":"f","t":42.6,"v":78},{"s":30,"k":"f","t":43.0,"v":40},{"s":30,"k":"f","t":43.5,"v":-10},{"s":30,"k":"f","t":44.0,"v":-50},
{"s":30,"k":"d","t":44.0,"v":-50},{"s":30,"k":"d","t":48,"v":-47},{"s":30,"k":"d","t":52.4,"v":-45},
{"s":30,"k":"k","t":52.4,"v":-45},{"s":30,"k":"k","t":53.2,"v":30},{"s":30,"k":"k","t":54,"v":-25},
{"s":30,"k":"t","t":54,"v":-25},{"s":30,"k":"t","t":62,"v":-45},{"s":30,"k":"t","t":90.4,"v":-52},

{"s":31,"k":"b","t":0.8,"v":0},{"s":31,"k":"b","t":13.6,"v":0},
{"s":31,"k":"r","t":13.6,"v":0},{"s":31,"k":"r","t":14.5,"v":2},{"s":31,"k":"r","t":15.5,"v":3},
{"s":31,"k":"p","t":15.5,"v":3},{"s":31,"k":"p","t":17,"v":8},{"s":31,"k":"p","t":30,"v":10},{"s":31,"k":"p","t":42.6,"v":11},
{"s":31,"k":"f","t":42.6,"v":11},{"s":31,"k":"f","t":43.3,"v":0},{"s":31,"k":"f","t":44.0,"v":-25},
{"s":31,"k":"d","t":44.0,"v":-25},{"s":31,"k":"d","t":48,"v":-22},{"s":31,"k":"d","t":52.4,"v":-20},
{"s":31,"k":"k","t":52.4,"v":-20},{"s":31,"k":"k","t":53.2,"v":40},{"s":31,"k":"k","t":54,"v":-5},
{"s":31,"k":"t","t":54,"v":-5},{"s":31,"k":"t","t":90.4,"v":-8},

{"s":32,"k":"b","t":0.8,"v":0},{"s":32,"k":"b","t":14.0,"v":0},
{"s":32,"k":"r","t":14.0,"v":0},{"s":32,"k":"r","t":14.5,"v":0.5},{"s":32,"k":"r","t":15.5,"v":-5},
{"s":32,"k":"p","t":15.5,"v":-5},{"s":32,"k":"p","t":25,"v":-9},{"s":32,"k":"p","t":42.6,"v":-6},
{"s":32,"k":"f","t":42.6,"v":-6},{"s":32,"k":"f","t":43.3,"v":-10},{"s":32,"k":"f","t":44.0,"v":-20},
{"s":32,"k":"d","t":44.0,"v":-20},{"s":32,"k":"d","t":48,"v":-15},{"s":32,"k":"d","t":52.4,"v":-12},
{"s":32,"k":"k","t":52.4,"v":-12},{"s":32,"k":"k","t":53.2,"v":50},{"s":32,"k":"k","t":54,"v":0},
{"s":32,"k":"t","t":54,"v":0},{"s":32,"k":"t","t":90.4,"v":2},

{"s":11,"k":"b","t":0.8,"v":0},{"s":11,"k":"b","t":14.0,"v":0},
{"s":11,"k":"r","t":14.0,"v":0},{"s":11,"k":"r","t":14.4,"v":250},{"s":11,"k":"r","t":14.9,"v":480},{"s":11,"k":"r","t":16.0,"v":560},{"s":11,"k":"r","t":17,"v":590},
{"s":11,"k":"p","t":17,"v":590},{"s":11,"k":"p","t":20,"v":594},{"s":11,"k":"p","t":30,"v":600},{"s":11,"k":"p","t":42.6,"v":603},
{"s":11,"k":"f","t":42.6,"v":603},{"s":11,"k":"f","t":43.0,"v":400},{"s":11,"k":"f","t":43.5,"v":100},{"s":11,"k":"f","t":44.0,"v":-60},
{"s":11,"k":"d","t":44.0,"v":-60},{"s":11,"k":"d","t":48,"v":-55},{"s":11,"k":"d","t":52.4,"v":-52},
{"s":11,"k":"k","t":52.4,"v":-52},{"s":11,"k":"k","t":53.1,"v":160},{"s":11,"k":"k","t":54,"v":-20},
{"s":11,"k":"t","t":54,"v":-20},{"s":11,"k":"t","t":62,"v":-35},{"s":11,"k":"t","t":90.4,"v":-38},

{"s":12,"k":"b","t":0.8,"v":0},{"s":12,"k":"b","t":14.1,"v":0},
{"s":12,"k":"r","t":14.1,"v":0},{"s":12,"k":"r","t":14.5,"v":250},{"s":12,"k":"r","t":15.0,"v":470},{"s":12,"k":"r","t":16.0,"v":560},{"s":12,"k":"r","t":17,"v":585},
{"s":12,"k":"p","t":17,"v":585},{"s":12,"k":"p","t":20,"v":588},{"s":12,"k":"p","t":30,"v":590},{"s":12,"k":"p","t":38,"v":585},{"s":12,"k":"p","t":42.6,"v":583},
{"s":12,"k":"f","t":42.6,"v":583},{"s":12,"k":"f","t":43.0,"v":400},{"s":12,"k":"f","t":43.5,"v":80},{"s":12,"k":"f","t":44.0,"v":-65},
{"s":12,"k":"d","t":44.0,"v":-65},{"s":12,"k":"d","t":48,"v":-60},{"s":12,"k":"d","t":52.4,"v":-58},
{"s":12,"k":"k","t":52.4,"v":-58},{"s":12,"k":"k","t":53.1,"v":100},{"s":12,"k":"k","t":54,"v":-25},
{"s":12,"k":"t","t":54,"v":-25},{"s":12,"k":"t","t":62,"v":-40},{"s":12,"k":"t","t":90.4,"v":-45},

{"s":17,"k":"b","t":0.8,"v":0},{"s":17,"k":"b","t":14.0,"v":0},
{"s":17,"k":"r","t":14.0,"v":0},{"s":17,"k":"r","t":14.4,"v":200},{"s":17,"k":"r","t":14.9,"v":330},{"s":17,"k":"r","t":15.8,"v":355},
{"s":17,"k":"p","t":15.8,"v":355},{"s":17,"k":"p","t":18,"v":345},{"s":17,"k":"p","t":20,"v":340},{"s":17,"k":"p","t":25,"v":332},{"s":17,"k":"p","t":42.6,"v":328},
{"s":17,"k":"f","t":42.6,"v":328},{"s":17,"k":"f","t":43.0,"v":200},{"s":17,"k":"f","t":43.5,"v":30},{"s":17,"k":"f","t":44.0,"v":-50},
{"s":17,"k":"d","t":44.0,"v":-50},{"s":17,"k":"d","t":48,"v":-48},{"s":17,"k":"d","t":52.4,"v":-46},
{"s":17,"k":"k","t":52.4,"v":-46},{"s":17,"k":"k","t":53.1,"v":130},{"s":17,"k":"k","t":54,"v":-15},
{"s":17,"k":"t","t":54,"v":-15},{"s":17,"k":"t","t":62,"v":-28},{"s":17,"k":"t","t":90.4,"v":-32},

{"s":19,"k":"b","t":0.8,"v":0},{"s":19,"k":"b","t":14.1,"v":0},
{"s":19,"k":"r","t":14.1,"v":0},{"s":19,"k":"r","t":14.5,"v":180},{"s":19,"k":"r","t":15.0,"v":270},{"s":19,"k":"r","t":16.5,"v":300},
{"s":19,"k":"p","t":16.5,"v":300},{"s":19,"k":"p","t":20,"v":310},{"s":19,"k":"p","t":30,"v":318},{"s":19,"k":"p","t":42.6,"v":322},
{"s":19,"k":"f","t":42.6,"v":322},{"s":19,"k":"f","t":43.0,"v":180},{"s":19,"k":"f","t":43.5,"v":20},{"s":19,"k":"f","t":44.0,"v":-60},
{"s":19,"k":"d","t":44.0,"v":-60},{"s":19,"k":"d","t":48,"v":-57},{"s":19,"k":"d","t":52.4,"v":-55},
{"s":19,"k":"k","t":52.4,"v":-55},{"s":19,"k":"k","t":53.1,"v":110},{"s":19,"k":"k","t":54,"v":-25},
{"s":19,"k":"t","t":54,"v":-25},{"s":19,"k":"t","t":62,"v":-38},{"s":19,"k":"t","t":90.4,"v":-42},

{"s":22,"k":"b","t":0.8,"v":0},{"s":22,"k":"b","t":13.9,"v":0},
{"s":22,"k":"r","t":13.9,"v":0},{"s":22,"k":"r","t":14.3,"v":150},{"s":22,"k":"r","t":14.9,"v":220},{"s":22,"k":"r","t":16.0,"v":255},
{"s":22,"k":"p","t":16.0,"v":255},{"s":22,"k":"p","t":20,"v":262},{"s":22,"k":"p","t":30,"v":268},{"s":22,"k":"p","t":42.6,"v":268},
{"s":22,"k":"f","t":42.6,"v":268},{"s":22,"k":"f","t":43.0,"v":150},{"s":22,"k":"f","t":43.5,"v":10},{"s":22,"k":"f","t":44.0,"v":-65},
{"s":22,"k":"d","t":44.0,"v":-65},{"s":22,"k":"d","t":48,"v":-62},{"s":22,"k":"d","t":52.4,"v":-60},
{"s":22,"k":"k","t":52.4,"v":-60},{"s":22,"k":"k","t":53.1,"v":100},{"s":22,"k":"k","t":54,"v":-28},
{"s":22,"k":"t","t":54,"v":-28},{"s":22,"k":"t","t":62,"v":-42},{"s":22,"k":"t","t":90.4,"v":-46}
 ]},
  "mark": {"type": "line", "strokeJoin": "round"},
  "encoding": {
   "color": {"field": "s", "type": "nominal", "legend": null, "scale": {"domain": [1,2,3,4,5,6,7,8,9,10,11,12,13,14,15,16,17,18,19,20,21,22,23,24,25,26,27,28,29,30,31,32], "range": ["#000080","#800000","#00ff00","#000080","#0000ff","#00ff00","#000000","#0000ff","#0000ff","#0000ff","#ff0000","#ff0000","#008000","#008000","#800000","#000080","#ff0000","#000000","#ff0000","#008000","#000000","#ff0000","#000080","#008000","#000000","#800000","#000080","#0000ff","#00ff00","#000000","#008000","#00ff00"]}},
   "strokeDash": {"field": "k", "type": "nominal", "legend": null, "scale": {"domain": ["b","r","p","f","d","k","t"], "range": [[1,0],[7,4],[1,0],[7,4],[1,0],[7,4],[1,0]]}},
   "strokeWidth": {"field": "k", "type": "nominal", "legend": null, "scale": {"domain": ["b","r","p","f","d","k","t"], "range": [3,2,3,2,3,2,3]}}
  }
 },
 {"data": {"values": [{"t": 0.625, "t2": 90.536, "v": -198.3, "v2": -280.3}]}, "mark": {"type": "rect", "fill": "#c0c0c0", "stroke": "#202020", "strokeWidth": 1.5}, "encoding": {"x2": {"field": "t2"}, "y2": {"field": "v2"}}},
 {"data": {"values": [{"t": 0.89, "t2": 3.75, "v": -202.7, "v2": -272.6}, {"t": 4.2, "t2": 87.14, "v": -202.7, "v2": -272.6}, {"t": 87.5, "t2": 90.36, "v": -202.7, "v2": -272.6}]}, "mark": {"type": "rect", "fill": "#c4c4c4", "stroke": "#303030", "strokeWidth": 1.5}, "encoding": {"x2": {"field": "t2"}, "y2": {"field": "v2"}}},
 {"data": {"values": [{"t": 2.23, "v": -238.1, "d": "l"}, {"t": 88.84, "v": -238.1, "d": "r"}]}, "mark": {"type": "point", "filled": true, "color": "#000", "opacity": 1, "size": 140}, "encoding": {"shape": {"field": "d", "type": "nominal", "legend": null, "scale": {"domain": ["l","r"], "range": ["triangle-left","triangle-right"]}}}},
 {"data": {"values": [{"t": -19.73, "v": 1438.6, "t2": 11.25, "v2": 1119.2}, {"t": -15.89, "v": -228.1, "t2": 4.21, "v2": -8.7}]}, "mark": {"type": "rule", "color": "#000", "strokeWidth": 7}, "encoding": {"x2": {"field": "t2"}, "y2": {"field": "v2"}}},
 {"data": {"values": [{"t": 12.59, "v": 1105.2}]}, "mark": {"type": "point", "shape": "M0,0L-0.6,1.2L0.6,1.2Z", "filled": true, "color": "#000", "opacity": 1, "size": 1900, "angle": 110.45, "strokeWidth": 0}},
 {"data": {"values": [{"t": 5.54, "v": 5.7}]}, "mark": {"type": "point", "shape": "M0,0L-0.6,1.2L0.6,1.2Z", "filled": true, "color": "#000", "opacity": 1, "size": 1900, "angle": 68.6, "strokeWidth": 0}},
 {"data": {"values": [{"t": -35.9, "v": 1478.3, "txt": "sample"}, {"t": -35.9, "v": 1326.6, "txt": "vapor"}, {"t": -34.82, "v": -253, "txt": "constant"}, {"t": -34.64, "v": -404.7, "txt": "baseline"}]}, "mark": {"type": "text", "align": "left", "baseline": "alphabetic", "font": "Liberation Sans", "fontSize": 53, "color": "#000"}, "encoding": {"text": {"field": "txt"}}},
 {"data": {"values": [{"t": 46.96, "v": 1356.5, "txt": "Sample"}, {"t": 46.96, "v": 1213.4, "txt": "response on"}, {"t": 46.96, "v": 1070.4, "txt": "each of 32"}, {"t": 46.96, "v": 927.4, "txt": "sensors"}, {"t": 61.25, "v": 470.9, "txt": "quick purge"}, {"t": 61.25, "v": 327.9, "txt": "and return to"}, {"t": 61.25, "v": 184.8, "txt": "baseline"}]}, "mark": {"type": "text", "align": "left", "baseline": "alphabetic", "font": "Liberation Sans", "fontSize": 47.5, "color": "#000"}, "encoding": {"text": {"field": "txt"}}}
]
}
